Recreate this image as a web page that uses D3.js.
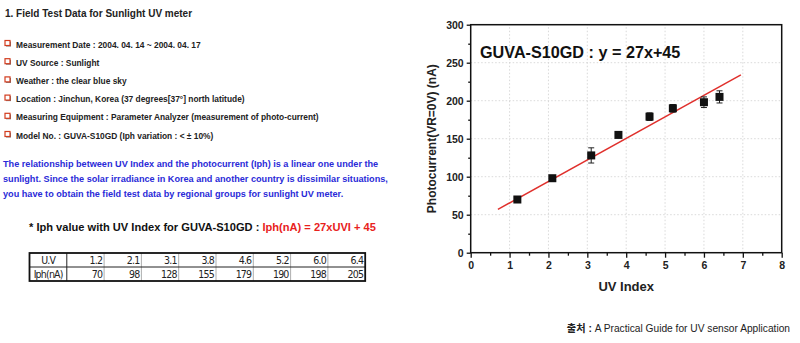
<!DOCTYPE html>
<html>
<head>
<meta charset="utf-8">
<script src="https://cdn.jsdelivr.net/npm/d3@7"></script>
<style>
  body { margin: 0; background: #fff; }
  svg { display: block; font-family: "Liberation Sans", Arial, sans-serif; }
</style>
</head>
<body>
<svg id="chart" width="800" height="343"></svg>
<script>
// field test data
const uvIndex = [1.2, 2.1, 3.1, 3.8, 4.6, 5.2, 6.0, 6.4];
const iphLabels = ['1.2', '2.1', '3.1', '3.8', '4.6', '5.2', '6.0', '6.4'];
const photocurrent = [70, 98, 128, 155, 179, 190, 198, 205];
const errorBars = [3, 3, 10, 4, 5, 5, 7, 8];
// drawn regression line end points
const fitX = [0.7, 6.95];
const fitY = [57, 234];

const xTicks = [0, 1, 2, 3, 4, 5, 6, 7, 8];
const yTicks = [0, 50, 100, 150, 200, 250, 300];

const bullets = [
  'Measurement Date : 2004. 04. 14 ~ 2004. 04. 17',
  'UV Source : Sunlight',
  'Weather : the clear blue sky',
  'Location : Jinchun, Korea (37 degrees[37\u00b0] north latitude)',
  'Measuring Equipment : Parameter Analyzer (measurement of photo-current)',
  'Model No. : GUVA-S10GD (Iph variation : < \u00b1 10%)'
];
const paragraph = [
  'The relationship between UV Index and the photocurrent (Iph) is a linear one under the',
  'sunlight. Since the solar irradiance in Korea and another country is dissimilar situations,',
  'you have to obtain the field test data by regional groups for sunlight UV meter.'
];

const svg = d3.select('#chart');

// ---------- left text block ----------
svg.append('text')
  .attr('x', 5).attr('y', 17)
  .attr('font-size', 10).attr('font-weight', 'bold').attr('fill', '#222')
  .text('1. Field Test Data for Sunlight UV meter');

const items = svg.append('g').selectAll('g')
  .data(bullets)
  .join('g')
  .attr('transform', (d, i) => `translate(0,${47.5 + i * 18.2})`);

items.append('rect')
  .attr('x', 6).attr('y', -6).attr('width', 5).attr('height', 5)
  .attr('fill', '#777').attr('stroke', 'none');
items.append('rect')
  .attr('x', 5).attr('y', -7).attr('width', 5).attr('height', 5)
  .attr('fill', '#fff').attr('stroke', '#d23c1e').attr('stroke-width', 1.2);
items.append('text')
  .attr('x', 16).attr('y', 0)
  .attr('font-size', 8.4).attr('font-weight', 'bold').attr('fill', '#222')
  .text((d) => d);

svg.append('g').selectAll('text')
  .data(paragraph)
  .join('text')
  .attr('x', 3)
  .attr('y', (d, i) => 166.5 + i * 15.2)
  .attr('font-size', 9.15).attr('font-weight', 'bold').attr('fill', '#2a2ad8')
  .text((d) => d);

const formula = svg.append('text')
  .attr('x', 29).attr('y', 231)
  .attr('font-size', 11.1).attr('font-weight', 'bold').attr('fill', '#111');
formula.append('tspan').text('* Iph value with UV Index for GUVA-S10GD : ');
formula.append('tspan').attr('fill', '#e8221c').text('Iph(nA) = 27xUVI + 45');

// ---------- data table ----------
const table = { x: 29.5, y: 253, w0: 37.3, w: 37.3, h: 14 };
const tg = svg.append('g');
const rowsData = [
  { head: 'U.V', vals: iphLabels },
  { head: 'Iph(nA)', vals: photocurrent.map(String) }
];
const totalW = table.w0 + table.w * uvIndex.length;

rowsData.forEach((row, r) => {
  const y = table.y + r * table.h;
  tg.append('text')
    .attr('x', table.x + table.w0 / 2).attr('y', y + 11)
    .attr('text-anchor', 'middle')
    .attr('font-family', '"Liberation Sans Narrow", "DejaVu Sans Condensed", sans-serif')
    .attr('font-size', 10.5).attr('letter-spacing', -0.8).attr('fill', '#222')
    .text(row.head);
  tg.selectAll(null)
    .data(row.vals)
    .join('text')
    .attr('x', (d, i) => table.x + table.w0 + table.w * (i + 1) - 2)
    .attr('y', y + 11)
    .attr('text-anchor', 'end')
    .attr('font-family', '"Liberation Sans Narrow", "DejaVu Sans Condensed", sans-serif')
    .attr('font-size', 10.5).attr('letter-spacing', -0.8).attr('fill', '#222')
    .text((d) => d);
});

// inner lines
tg.selectAll(null)
  .data(d3.range(uvIndex.length))
  .join('line')
  .attr('x1', (d) => table.x + table.w0 + table.w * d)
  .attr('x2', (d) => table.x + table.w0 + table.w * d)
  .attr('y1', table.y).attr('y2', table.y + 2 * table.h)
  .attr('stroke', (d) => (d === 0 ? '#222' : '#999')).attr('stroke-width', (d) => (d === 0 ? 1 : 0.8));
tg.append('line')
  .attr('x1', table.x).attr('x2', table.x + totalW)
  .attr('y1', table.y + table.h).attr('y2', table.y + table.h)
  .attr('stroke', '#222').attr('stroke-width', 1);
tg.append('rect')
  .attr('x', table.x).attr('y', table.y)
  .attr('width', totalW).attr('height', 2 * table.h)
  .attr('fill', 'none').attr('stroke', '#111').attr('stroke-width', 1.8);

// ---------- chart ----------
const x = d3.scaleLinear().domain([0, 8]).range([470.7, 781.7]);
const y = d3.scaleLinear().domain([0, 300]).range([252.7, 24.7]);

const grid = svg.append('g')
  .attr('stroke', '#cfcfcf').attr('stroke-width', 0.8).attr('stroke-dasharray', '1.5,2');
grid.selectAll('.gx')
  .data(xTicks.slice(1, -1))
  .join('line')
  .attr('x1', (d) => x(d)).attr('x2', (d) => x(d))
  .attr('y1', y(0)).attr('y2', y(300));
grid.selectAll('.gy')
  .data(yTicks.slice(1, -1))
  .join('line')
  .attr('x1', x(0)).attr('x2', x(8))
  .attr('y1', (d) => y(d)).attr('y2', (d) => y(d));

// axes
const xAxis = svg.append('g')
  .attr('transform', `translate(0,${y(0)})`)
  .call(d3.axisBottom(x).tickValues(xTicks).tickFormat(d3.format('d')).tickSize(5).tickPadding(4));
const xMinor = svg.append('g')
  .attr('transform', `translate(0,${y(0)})`)
  .call(d3.axisBottom(x).tickValues(d3.range(0.5, 8, 1)).tickFormat('').tickSize(3));
const yAxis = svg.append('g')
  .attr('transform', `translate(${x(0)},0)`)
  .call(d3.axisLeft(y).tickValues(yTicks).tickSize(4).tickPadding(3));
const yMinor = svg.append('g')
  .attr('transform', `translate(${x(0)},0)`)
  .call(d3.axisLeft(y).tickValues(d3.range(25, 300, 50)).tickFormat('').tickSize(2.5));

[xAxis, xMinor, yAxis, yMinor].forEach((g) => {
  g.select('.domain').remove();
  g.selectAll('line').attr('stroke', '#111').attr('stroke-width', 1.3);
  g.selectAll('text')
    .attr('font-family', '"Liberation Sans", Arial, sans-serif')
    .attr('font-size', 10.5).attr('font-weight', 'bold').attr('fill', '#222');
});

// frame
svg.append('rect')
  .attr('x', x(0)).attr('y', y(300))
  .attr('width', x(8) - x(0)).attr('height', y(0) - y(300))
  .attr('fill', 'none').attr('stroke', '#111').attr('stroke-width', 1.5);

// fit line
svg.append('line')
  .attr('x1', x(fitX[0])).attr('y1', y(fitY[0]))
  .attr('x2', x(fitX[1])).attr('y2', y(fitY[1]))
  .attr('stroke', '#e0302c').attr('stroke-width', 1.5);

// points with error bars
const pts = svg.append('g').selectAll('g')
  .data(uvIndex.map((u, i) => ({ u, v: photocurrent[i], e: errorBars[i] })))
  .join('g');
pts.append('line')
  .attr('x1', (d) => x(d.u)).attr('x2', (d) => x(d.u))
  .attr('y1', (d) => y(d.v - d.e)).attr('y2', (d) => y(d.v + d.e))
  .attr('stroke', '#222').attr('stroke-width', 1);
pts.selectAll('.cap')
  .data((d) => [d.v - d.e, d.v + d.e].map((v) => ({ u: d.u, v })))
  .join('line')
  .attr('x1', (d) => x(d.u) - 3).attr('x2', (d) => x(d.u) + 3)
  .attr('y1', (d) => y(d.v)).attr('y2', (d) => y(d.v))
  .attr('stroke', '#222').attr('stroke-width', 1);
pts.append('rect')
  .attr('x', (d) => x(d.u) - 4).attr('y', (d) => y(d.v) - 4)
  .attr('width', 8).attr('height', 8)
  .attr('fill', '#111');

// labels
svg.append('text')
  .attr('x', 480).attr('y', 58)
  .attr('font-size', 16.2).attr('font-weight', 'bold').attr('fill', '#111')
  .text('GUVA-S10GD : y = 27x+45');

svg.append('text')
  .attr('x', (x(0) + x(8)) / 2).attr('y', 291)
  .attr('text-anchor', 'middle')
  .attr('font-size', 13).attr('font-weight', 'bold').attr('fill', '#222')
  .text('UV Index');

svg.append('text')
  .attr('transform', `translate(436,${(y(0) + y(300)) / 2}) rotate(-90)`)
  .attr('text-anchor', 'middle')
  .attr('font-size', 12).attr('font-weight', 'bold').attr('fill', '#222')
  .text('Photocurrent(VR=0V) (nA)');

// source note
const src = svg.append('text')
  .attr('x', 790).attr('y', 332)
  .attr('text-anchor', 'end')
  .attr('font-size', 10.2).attr('fill', '#222');
src.append('tspan').attr('font-family', '"Noto Sans CJK KR", sans-serif').attr('font-weight', 'bold').text('출처');
src.append('tspan').attr('font-weight', 'bold').text(' : ');
src.append('tspan').text('A Practical Guide for UV sensor Application');
</script>
</body>
</html>
